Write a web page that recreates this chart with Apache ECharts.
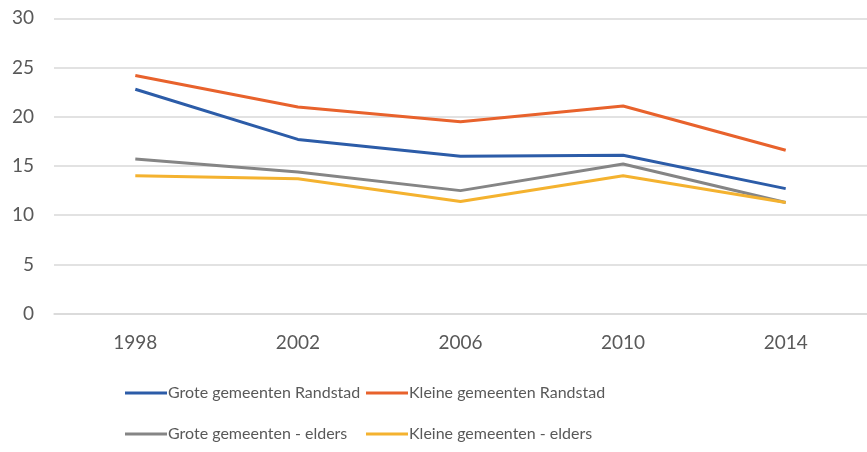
<!DOCTYPE html>
<html>
<head>
<meta charset="utf-8">
<script src="https://cdn.jsdelivr.net/npm/echarts@6/dist/echarts.min.js"></script>
<style>html,body{margin:0;padding:0;background:#fff}#c{width:867px;height:452px}</style>
</head>
<body>
<div id="c"></div>
<script>
const years = ['1998', '2002', '2006', '2010', '2014'];
const groteRandstad = [22.8, 17.7, 16.0, 16.1, 12.7];
const kleineRandstad = [24.2, 21.0, 19.5, 21.1, 16.6];
const groteElders = [15.7, 14.4, 12.5, 15.2, 11.3];
const kleineElders = [14.0, 13.7, 11.4, 14.0, 11.3];
const seriesNames = ['Grote gemeenten Randstad', 'Kleine gemeenten Randstad', 'Grote gemeenten - elders', 'Kleine gemeenten - elders'];
const colors = ['#2c5ca8', '#e8622c', '#858585', '#f4b22f'];

const font = 'Lato';
const txt = '#595959';
const chart = echarts.init(document.getElementById('c'));
const dataSets = [groteRandstad, kleineRandstad, groteElders, kleineElders];
const legendPos = [[125, 385], [366, 385], [125, 426], [366, 426]];
chart.setOption({
  animation: false,
  color: colors,
  grid: { left: 54, top: 18.3, width: 821, height: 295.4, containLabel: false },
  legend: seriesNames.map((n, i) => ({
    data: [n], left: legendPos[i][0], top: legendPos[i][1],
    icon: 'rect', itemWidth: 42, itemHeight: 3, padding: 0,
    textStyle: { fontFamily: font, fontSize: 16, color: txt, padding: [0, 0, 0, -4] }
  })),
  xAxis: {
    type: 'category', data: years, boundaryGap: true,
    axisLine: { show: true, lineStyle: { color: '#d9d9d9', width: 1.5 } },
    axisTick: { show: false },
    axisLabel: { fontFamily: font, fontSize: 19, color: txt, margin: 20 }
  },
  yAxis: {
    type: 'value', min: 0, max: 30, interval: 5,
    axisLine: { show: false }, axisTick: { show: false },
    splitLine: { lineStyle: { color: '#d9d9d9', width: 1.5 } },
    axisLabel: { fontFamily: font, fontSize: 19, color: txt, margin: 20 }
  },
  series: seriesNames.map((n, i) => ({
    name: n, type: 'line', data: dataSets[i], showSymbol: false, symbol: 'none',
    lineStyle: { width: 3, color: colors[i] }, itemStyle: { color: colors[i] }
  }))
});
</script>
</body>
</html>
